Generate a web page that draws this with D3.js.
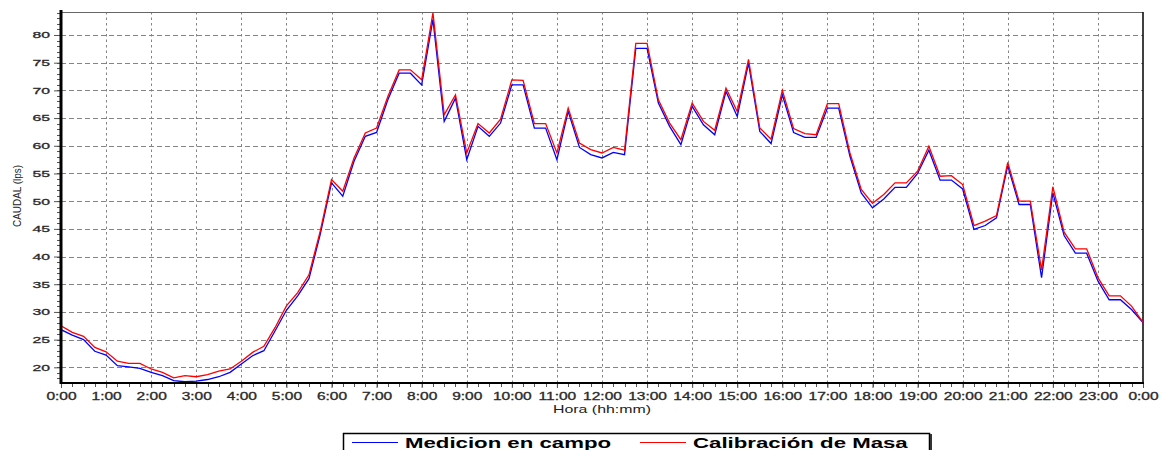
<!DOCTYPE html>
<html>
<head>
<meta charset="utf-8">
<script src="https://cdn.jsdelivr.net/npm/d3@7"></script>
<style>
  body { margin: 0; background: #fff; }
  svg { display: block; font-family: "Liberation Sans", Arial, sans-serif; }
</style>
</head>
<body>
<svg id="Caudal"></svg>
<script>
// horas de lectura (cada 15 min)
var horas = ["0:00","0:15","0:30","0:45","1:00","1:15","1:30","1:45","2:00","2:15","2:30","2:45",
    "3:00","3:15","3:30","3:45","4:00","4:15","4:30","4:45","5:00","5:15","5:30","5:45",
    "6:00","6:15","6:30","6:45","7:00","7:15","7:30","7:45","8:00","8:15","8:30","8:45",
    "9:00","9:15","9:30","9:45","10:00","10:15","10:30","10:45","11:00","11:15","11:30","11:45",
    "12:00","12:15","12:30","12:45","13:00","13:15","13:30","13:45","14:00","14:15","14:30","14:45",
    "15:00","15:15","15:30","15:45","16:00","16:15","16:30","16:45","17:00","17:15","17:30","17:45",
    "18:00","18:15","18:30","18:45","19:00","19:15","19:30","19:45","20:00","20:15","20:30","20:45",
    "21:00","21:15","21:30","21:45","22:00","22:15","22:30","22:45","23:00","23:15","23:30","23:45","24:00"]

// Medicion en campo (lps)
var medicion = [26.8,25.8,25.0,22.9,22.2,20.3,20.1,19.8,19.1,18.5,17.6,17.4,
    17.5,17.8,18.3,19.1,20.6,22.1,23.0,26.6,30.3,32.9,36.0,44.0,
    53.3,50.9,57.2,61.7,62.4,68.3,73.1,73.1,71.0,82.8,64.4,68.6,
    57.5,63.5,61.7,64.1,71.0,71.0,63.2,63.2,57.5,66.2,59.7,58.4,
    57.8,58.8,58.4,77.6,77.6,67.7,63.5,60.2,67.1,63.8,62.0,69.8,
    65.3,74.9,62.6,60.4,69.2,62.4,61.5,61.5,66.8,66.8,58.1,51.5,
    48.8,50.4,52.5,52.5,55.0,59.2,53.8,53.8,52.2,44.9,45.6,47.0,
    56.4,49.4,49.4,36.2,51.5,43.8,40.6,40.6,35.6,32.2,32.2,30.4,28.1]

// Calibracion de Masa (lps)
var calibracion = [27.5,26.3,25.6,23.6,22.8,21.1,20.7,20.7,19.7,19.1,18.1,18.5,
    18.3,18.7,19.3,19.7,21.1,22.7,23.8,27.2,31.1,33.5,36.7,44.6,
    53.9,51.8,57.8,62.3,63.2,68.9,73.7,73.7,71.9,84.0,65.6,69.2,
    58.7,64.0,62.3,64.8,71.9,71.8,64.0,64.0,58.7,66.8,60.5,59.3,
    58.7,59.7,59.2,78.5,78.5,68.3,64.1,61.1,67.7,64.4,62.8,70.4,
    66.2,75.6,63.2,61.2,70.0,63.1,62.2,62.0,67.6,67.6,58.7,52.1,
    49.6,51.2,53.3,53.3,55.4,59.9,54.5,54.6,53.0,45.6,46.4,47.4,
    57.0,50.0,50.0,37.6,52.6,44.4,41.4,41.4,36.2,32.9,32.9,31.0,28.1]

var xTicks = [0,1,2,3,4,5,6,7,8,9,10,11,12,13,14,15,16,17,18,19,20,21,22,23,24]
var xTickLabels = ["0:00","1:00","2:00","3:00","4:00","5:00","6:00","7:00","8:00","9:00","10:00","11:00",
    "12:00","13:00","14:00","15:00","16:00","17:00","18:00","19:00","20:00","21:00","22:00","23:00","0:00"]
var yTicks = [20,25,30,35,40,45,50,55,60,65,70,75,80]
var series = ["Medicion en campo", "Calibración de Masa"]
var colores = ["#0000ff", "#ff0000"]

var dimensions = {
    width: 1168,
    height: 450,
    margin: { top: 12, bottom: 67, right: 25, left: 61 }
}

var svg = d3.select("#Caudal")
    .attr("width", dimensions.width)
    .attr("height", dimensions.height)

function toHours(s){
    var p = s.split(":")
    return +p[0] + (+p[1]) / 60
}

// the reference picture is stretched sideways, so widen the text to match
function widen(sel, k){
    sel.each(function(){
        var w = this.getComputedTextLength()
        d3.select(this).attr("textLength", w * k).attr("lengthAdjust", "spacingAndGlyphs")
    })
}

var xScale = d3.scaleLinear()
    .domain([0, 24])
    .range([dimensions.margin.left, dimensions.width - dimensions.margin.right])

var yScale = d3.scaleLinear()
    .domain([17.17, 84.15])
    .range([dimensions.height - dimensions.margin.bottom, dimensions.margin.top])

var x0 = xScale.range()[0], x1 = xScale.range()[1]
var y0 = yScale.range()[0], y1 = yScale.range()[1]

// grid
svg.append("g")
    .selectAll("line")
    .data(yTicks)
    .enter()
    .append("line")
    .attr("x1", x0).attr("x2", x1)
    .attr("y1", d => Math.round(yScale(d)) + 0.5)
    .attr("y2", d => Math.round(yScale(d)) + 0.5)
    .attr("stroke", "#848484")
    .attr("stroke-dasharray", "5,3")

svg.append("g")
    .selectAll("line")
    .data(xTicks.slice(1, -1))
    .enter()
    .append("line")
    .attr("x1", d => Math.round(xScale(d)) + 0.5)
    .attr("x2", d => Math.round(xScale(d)) + 0.5)
    .attr("y1", y1).attr("y2", y0)
    .attr("stroke", "#848484")
    .attr("stroke-dasharray", "2.5,3")

// frame top / right
svg.append("line")
    .attr("x1", x0).attr("x2", x1).attr("y1", y1 + 0.5).attr("y2", y1 + 0.5)
    .attr("stroke", "#666").attr("stroke-width", 1.2)
svg.append("line")
    .attr("x1", x1).attr("x2", x1).attr("y1", y1).attr("y2", y0)
    .attr("stroke", "#000").attr("stroke-width", 1.5)

// lines
svg.append("clipPath").attr("id", "plot")
    .append("rect")
    .attr("x", x0).attr("y", y1 - 1)
    .attr("width", x1 - x0).attr("height", y0 - y1 + 1)

var lineGen = d3.line()
    .x((d, i) => xScale(toHours(horas[i])))
    .y(d => yScale(d))

var lineas = svg.append("g").attr("clip-path", "url(#plot)")
;[medicion, calibracion].forEach(function(vals, i){
    lineas.append("path")
        .datum(vals)
        .attr("d", lineGen)
        .attr("fill", "none")
        .attr("stroke", colores[i])
        .attr("stroke-width", 1.3)
        .attr("stroke-linejoin", "miter")
})

// minor ticks
svg.append("g")
    .selectAll("line")
    .data(d3.range(18, 85))
    .enter()
    .append("line")
    .attr("x1", x0 - 4).attr("x2", x0)
    .attr("y1", d => Math.round(yScale(d)) + 0.5)
    .attr("y2", d => Math.round(yScale(d)) + 0.5)
    .attr("stroke", "#555")

svg.append("g")
    .selectAll("line")
    .data(d3.range(0, 97))
    .enter()
    .append("line")
    .attr("x1", d => Math.round(xScale(d / 4)) + 0.5)
    .attr("x2", d => Math.round(xScale(d / 4)) + 0.5)
    .attr("y1", y0).attr("y2", y0 + 4)
    .attr("stroke", "#555")

// axes
var yAxisGen = d3.axisLeft(yScale)
    .tickValues(yTicks)
    .tickSize(7)
    .tickPadding(4)

var yAxis = svg.append("g")
    .attr("transform", "translate(" + x0 + ",0)")
    .call(yAxisGen)
yAxis.select(".domain").remove()
yAxis.selectAll("line").attr("stroke", "#555")
yAxis.selectAll("text")
    .attr("fill", "#2a2a2a")
    .attr("stroke", "#2a2a2a")
    .attr("stroke-width", 0.3)
    .style("font-size", "9px")
    .call(widen, 1.75)

var xAxisGen = d3.axisBottom(xScale)
    .tickValues(xTicks)
    .tickFormat((d, i) => xTickLabels[i])
    .tickSize(5)
    .tickPadding(5)

var xAxis = svg.append("g")
    .attr("transform", "translate(0," + y0 + ")")
    .call(xAxisGen)
xAxis.select(".domain").remove()
xAxis.selectAll("line").attr("stroke", "#555")
xAxis.selectAll("text")
    .attr("fill", "#2a2a2a")
    .attr("stroke", "#2a2a2a")
    .attr("stroke-width", 0.3)
    .style("font-size", "10px")
    .call(widen, 1.55)

// thick axis lines
svg.append("line")
    .attr("x1", x0).attr("x2", x0).attr("y1", y1 - 2).attr("y2", y0 + 1)
    .attr("stroke", "#000").attr("stroke-width", 3)
svg.append("line")
    .attr("x1", x0 - 1).attr("x2", x1 + 1).attr("y1", y0).attr("y2", y0)
    .attr("stroke", "#000").attr("stroke-width", 2)

// axis titles
svg.append("text")
    .attr("x", (x0 + x1) / 2)
    .attr("y", 413)
    .attr("text-anchor", "middle")
    .style("font-size", "11.5px")
    .attr("fill", "#222")
    .text("Hora (hh:mm)")
    .call(widen, 1.38)

svg.append("text")
    .attr("transform", "translate(21," + 196 + ") rotate(-90)")
    .attr("text-anchor", "middle")
    .style("font-size", "11px")
    .attr("fill", "#222")
    .text("CAUDAL (lps)")
    .attr("textLength", 62)
    .attr("lengthAdjust", "spacingAndGlyphs")

// legend
var legend = svg.append("g")
legend.append("rect")
    .attr("x", 343.5).attr("y", 433.5)
    .attr("width", 586).attr("height", 40)
    .attr("fill", "#fff")
    .attr("stroke", "#000")
    .attr("stroke-width", 1.5)
legend.append("line")
    .attr("x1", 931).attr("x2", 931).attr("y1", 434).attr("y2", 450)
    .attr("stroke", "#333").attr("stroke-width", 2)

var legX = [352, 640]
series.forEach(function(s, i){
    legend.append("line")
        .attr("x1", legX[i]).attr("x2", legX[i] + 46)
        .attr("y1", 442.5).attr("y2", 442.5)
        .attr("stroke", colores[i])
        .attr("stroke-width", 1.2)
    legend.append("text")
        .attr("x", legX[i] + 53)
        .attr("y", 447.5)
        .style("font-size", "15px")
        .style("font-weight", "bold")
        .attr("fill", "#000")
        .text(s)
        .call(widen, 1.48)
})
</script>
</body>
</html>
